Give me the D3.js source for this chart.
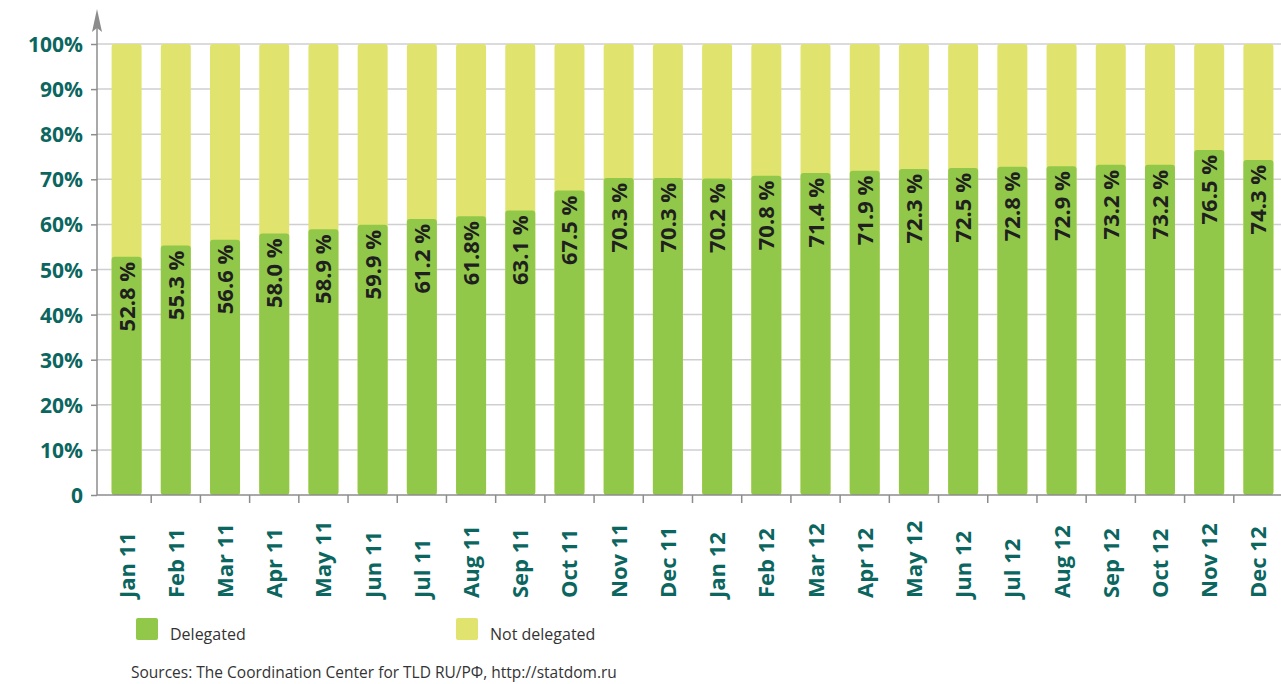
<!DOCTYPE html>
<html>
<head>
<meta charset="utf-8">
<script src="https://cdn.jsdelivr.net/npm/d3@7"></script>
<style>
  body { margin: 0; background: #fff; }
  svg { display: block; }
</style>
</head>
<body>
<svg id="drawing_region"></svg>
<script>
const months = ["Jan 11","Feb 11","Mar 11","Apr 11","May 11","Jun 11","Jul 11","Aug 11","Sep 11","Oct 11","Nov 11","Dec 11",
                "Jan 12","Feb 12","Mar 12","Apr 12","May 12","Jun 12","Jul 12","Aug 12","Sep 12","Oct 12","Nov 12","Dec 12"];
const delegated = [52.8,55.3,56.6,58.0,58.9,59.9,61.2,61.8,63.1,67.5,70.3,70.3,
                   70.2,70.8,71.4,71.9,72.3,72.5,72.8,72.9,73.2,73.2,76.5,74.3];
const valueLabels = ["52.8 %","55.3 %","56.6 %","58.0 %","58.9 %","59.9 %","61.2 %","61.8%","63.1 %","67.5 %","70.3 %","70.3 %",
                     "70.2 %","70.8 %","71.4 %","71.9 %","72.3 %","72.5 %","72.8 %","72.9 %","73.2 %","73.2 %","76.5 %","74.3 %"];
const yTicks = [0,10,20,30,40,50,60,70,80,90,100];
const legendItems = ["Delegated","Not delegated"];

const W = 1281, H = 684;
const green = "#92c84a", yellow = "#e0e46e", teal = "#0b6660", grey = "#8c8c8c";

const svg = d3.select("#drawing_region").attr("width", W).attr("height", H);

const x = d3.scaleBand().domain(months).range([102, 1283]).paddingInner(0.39).paddingOuter(0.195);
const y = d3.scaleLinear().domain([0, 100]).range([495, 44]);
const axisX = 97;

// grid
svg.append("g").selectAll("line").data(yTicks.filter(d => d > 0)).join("line")
  .attr("x1", axisX).attr("x2", W)
  .attr("y1", d => y(d)).attr("y2", d => y(d))
  .attr("stroke", "#cfcfd2").attr("stroke-width", 1.5);

// y axis
const yaxis = d3.axisLeft(y).tickValues(yTicks).tickSize(6).tickSizeOuter(0)
  .tickFormat(d => d === 0 ? "0" : d + "%");
const yg = svg.append("g").attr("transform", `translate(${axisX},0)`).call(yaxis);
yg.select(".domain").remove();
yg.selectAll(".tick line").attr("stroke", grey).attr("stroke-width", 1.5);
yg.selectAll(".tick text").attr("x", -14).attr("dy", "0.36em")
  .attr("fill", teal).style("font-family", "'Open Sans', sans-serif")
  .style("font-weight", "bold").style("font-size", "21px");

// bars
const bars = svg.append("g").selectAll("g").data(months).join("g");
bars.append("rect")
  .attr("x", d => x(d)).attr("width", x.bandwidth())
  .attr("y", y(100)).attr("height", y(0) - y(100))
  .attr("rx", 3).attr("fill", yellow);
bars.append("rect")
  .attr("x", d => x(d)).attr("width", x.bandwidth())
  .attr("y", (d, i) => y(delegated[i])).attr("height", (d, i) => y(0) - y(delegated[i]))
  .attr("rx", 3).attr("fill", green);
bars.append("text")
  .attr("transform", (d, i) => `translate(${x(d) + x.bandwidth() / 2 + 8},${y(delegated[i]) + 5}) rotate(-90)`)
  .attr("text-anchor", "end")
  .attr("fill", "#1f1f1f")
  .style("font-family", "'Open Sans', sans-serif").style("font-weight", "bold").style("font-size", "22px")
  .text((d, i) => valueLabels[i]);

// x axis
const bounds = months.slice(1).map(m => x(m) - x.step() * x.paddingInner() / 2);
svg.append("line").attr("x1", axisX).attr("x2", W).attr("y1", y(0)).attr("y2", y(0))
  .attr("stroke", grey).attr("stroke-width", 1.5);
svg.append("g").selectAll("line").data(bounds).join("line")
  .attr("x1", d => d).attr("x2", d => d).attr("y1", y(0)).attr("y2", y(0) + 8)
  .attr("stroke", grey).attr("stroke-width", 1.5);
svg.append("g").selectAll("text").data(months).join("text")
  .attr("transform", d => `translate(${x(d) + x.bandwidth() / 2 + 8},598) rotate(-90)`)
  .attr("text-anchor", "start")
  .attr("fill", teal)
  .style("font-family", "'Open Sans', sans-serif").style("font-weight", "bold").style("font-size", "22px")
  .text(d => d);

// vertical axis with arrow
svg.append("line").attr("x1", axisX).attr("x2", axisX).attr("y1", y(0)).attr("y2", 26)
  .attr("stroke", grey).attr("stroke-width", 1.5);
svg.append("path").attr("d", `M${axisX},9 L${axisX - 5},32 L${axisX},28 L${axisX + 5},32 Z`)
  .attr("fill", grey);

// legend
const legend = svg.append("g").selectAll("g").data(legendItems).join("g")
  .attr("transform", (d, i) => `translate(${136 + i * 320},618)`);
legend.append("rect").attr("width", 22).attr("height", 22).attr("rx", 2)
  .attr("fill", (d, i) => i === 0 ? green : yellow);
legend.append("text").attr("x", 34).attr("y", 22)
  .attr("fill", "#333")
  .style("font-family", "'Open Sans', sans-serif").style("font-size", "16px")
  .text(d => d);

svg.append("text").attr("x", 131).attr("y", 678)
  .attr("fill", "#333")
  .style("font-family", "'Open Sans', sans-serif").style("font-size", "15.5px")
  .text("Sources: The Coordination Center for TLD RU/РФ, http://statdom.ru");
</script>
</body>
</html>
